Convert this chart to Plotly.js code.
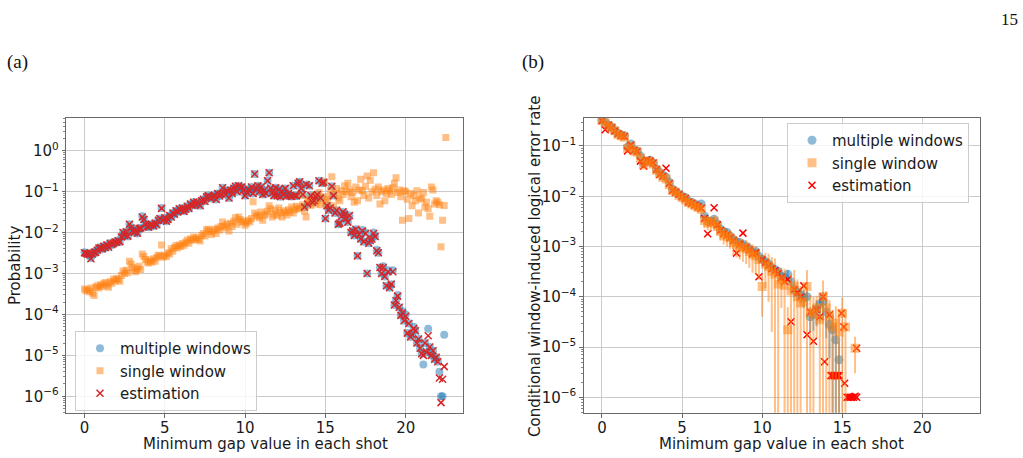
<!DOCTYPE html>
<html><head><meta charset="utf-8">
<script src="https://cdn.plot.ly/plotly-3.0.1.min.js"></script>
<style>html,body{margin:0;padding:0;background:#fff;}#chart{width:1023px;height:458px;}</style>
</head><body><div id="chart"></div>
<script>
// ---------- panel (a) data ----------
const xLeft = [
0,0.1,0.2,0.3,0.4,0.5,0.6,0.7,0.8,0.9,
1,1.1,1.2,1.3,1.4,1.5,1.6,1.7,1.8,1.9,
2,2.1,2.2,2.3,2.4,2.5,2.6,2.7,2.8,2.9,
3,3.1,3.2,3.3,3.4,3.5,3.6,3.7,3.8,3.9,
4,4.1,4.2,4.3,4.4,4.5,4.6,4.7,4.8,4.9,
5,5.1,5.2,5.3,5.4,5.5,5.6,5.7,5.8,5.9,
6,6.1,6.2,6.3,6.4,6.5,6.6,6.7,6.8,6.9,
7,7.1,7.2,7.3,7.4,7.5,7.6,7.7,7.8,7.9,
8,8.1,8.2,8.3,8.4,8.5,8.6,8.7,8.8,8.9,
9,9.1,9.2,9.3,9.4,9.5,9.6,9.7,9.8,9.9,
10,10.1,10.2,10.3,10.4,10.5,10.6,10.7,10.8,10.9,
11,11.1,11.2,11.3,11.4,11.5,11.6,11.7,11.8,11.9,
12,12.1,12.2,12.3,12.4,12.5,12.6,12.7,12.8,12.9,
13,13.1,13.2,13.3,13.4,13.5,13.6,13.7,13.8,13.9,
14,14.1,14.2,14.3,14.4,14.5,14.6,14.7,14.8,14.9,
15,15.1,15.2,15.3,15.4,15.5,15.6,15.7,15.8,15.9,
16,16.1,16.2,16.3,16.4,16.5,16.6,16.7,16.8,16.9,
17,17.1,17.2,17.3,17.4,17.5,17.6,17.7,17.8,17.9,
18,18.1,18.2,18.3,18.4,18.5,18.6,18.7,18.8,18.9,
19,19.1,19.2,19.3,19.4,19.5,19.6,19.7,19.8,19.9,
20,20.1,20.2,20.3,20.4,20.5,20.6,20.7,20.8,20.9,
21,21.1,21.2,21.3,21.4,21.5,21.6,21.7,21.8,21.9,
22,22.1,22.2,22.3,22.4,22.5];

const leftMultiple = [
3.3e-3,3.0e-3,3.1e-3,2.8e-3,2.4e-3,2.9e-3,3.4e-3,3.2e-3,3.8e-3,4.1e-3,
4.4e-3,3.9e-3,4.7e-3,4.2e-3,4.9e-3,4.5e-3,5.6e-3,5.0e-3,5.3e-3,6.0e-3,
5.7e-3,6.4e-3,5.9e-3,8.0e-3,9.8e-3,8.6e-3,1.05e-2,8.0e-3,1.6e-2,1.3e-2,
1.1e-2,1.0e-2,1.15e-2,9.5e-3,1.25e-2,1.3e-2,2.5e-2,2.1e-2,1.6e-2,1.4e-2,
1.35e-2,1.5e-2,1.6e-2,1.45e-2,1.7e-2,1.55e-2,2.0e-2,2.2e-2,4.0e-2,2.0e-2,
2.3e-2,1.9e-2,2.1e-2,2.6e-2,2.4e-2,3.0e-2,2.8e-2,3.4e-2,3.2e-2,3.8e-2,
3.5e-2,4.0e-2,3.3e-2,3.7e-2,4.4e-2,3.9e-2,5.0e-2,4.6e-2,5.5e-2,4.8e-2,
5.6e-2,5.0e-2,4.5e-2,6.0e-2,6.5e-2,5.8e-2,7.5e-2,8.0e-2,7.2e-2,6.8e-2,
7.6e-2,8.2e-2,6.4e-2,9.0e-2,7.8e-2,8.8e-2,1.25e-1,9.5e-2,8.5e-2,1.05e-1,
7.0e-2,1.1e-1,9.0e-2,1.2e-1,1.35e-1,1.0e-1,1.4e-1,1.25e-1,1.3e-1,1.1e-1,
8.0e-2,9.5e-2,1.15e-1,1.05e-1,1.3e-1,9.0e-2,2.7e-1,1.2e-1,1.4e-1,1.0e-1,
1.3e-1,8.5e-2,1.1e-1,9.0e-2,1.85e-1,2.9e-1,1.2e-1,9.5e-2,8.0e-2,1.25e-1,
8.0e-2,1.15e-1,7.5e-2,1.0e-1,8.5e-2,1.2e-1,7.8e-2,9.0e-2,8.0e-2,7.6e-2,
1.4e-1,8.0e-2,7.8e-2,1.6e-1,1.75e-1,1.2e-1,8.5e-2,4.2e-2,1.5e-1,5.0e-2,
1.4e-1,8.0e-2,5.5e-2,6.0e-2,7.5e-2,8.5e-2,1.85e-1,7.0e-2,1.6e-1,1.7e-1,
2.2e-2,4.5e-2,3.5e-2,4.0e-2,1.35e-1,8.0e-2,3.0e-2,3.5e-2,1.6e-2,1.7e-2,
2.5e-2,3.2e-2,2.8e-2,2.2e-2,1.8e-2,2.6e-2,1.0e-2,1.1e-2,8.5e-3,1.2e-2,
2.7e-3,9.0e-3,7.0e-3,1.15e-2,6.0e-3,1.0e-2,1.0e-3,5.5e-3,6.5e-3,7.5e-3,
1.0e-2,8.0e-3,3.8e-3,3.2e-3,1.4e-3,1.0e-3,1.5e-3,8.5e-4,5.0e-4,1.2e-3,
4.5e-4,5.5e-4,1.2e-3,1.7e-4,2.2e-4,3.0e-4,1.5e-4,9.5e-5,1.2e-4,7.0e-5,
1.0e-4,3.5e-5,6.0e-5,2.8e-5,3.2e-5,5.0e-5,4.0e-5,2.0e-5,2.5e-5,1.5e-5,
1.1e-5,6.0e-6,2.0e-5,1.2e-5,4.5e-5,1.6e-5,1.0e-5,1.3e-5,8.0e-6,9.0e-6,
7.0e-6,4.0e-6,1.0e-6,1.0e-6,3.2e-5];

const leftSingle = [
4.2e-4,3.8e-4,4.0e-4,3.6e-4,4.4e-4,3.3e-4,2.9e-4,4.6e-4,5.0e-4,4.4e-4,
5.3e-4,4.8e-4,5.6e-4,6.0e-4,5.2e-4,4.6e-4,6.3e-4,5.8e-4,7.2e-4,6.6e-4,
7.5e-4,7.0e-4,6.5e-4,9.0e-4,1.15e-3,1.0e-3,1.2e-3,1.05e-3,2.0e-3,1.7e-3,
1.4e-3,1.2e-3,1.1e-3,1.3e-3,1.5e-3,1.25e-3,3.0e-3,2.6e-3,2.2e-3,1.9e-3,
1.8e-3,2.1e-3,1.9e-3,2.3e-3,2.0e-3,2.5e-3,2.8e-3,2.7e-3,5.0e-3,2.5e-3,
2.8e-3,2.6e-3,3.2e-3,3.0e-3,4.0e-3,3.5e-3,4.3e-3,4.8e-3,4.2e-3,5.0e-3,
4.6e-3,5.4e-3,4.9e-3,5.8e-3,6.6e-3,5.5e-3,7.0e-3,6.5e-3,7.8e-3,6.9e-3,
7.5e-3,6.8e-3,6.2e-3,8.5e-3,9.5e-3,8.2e-3,1.15e-2,1.2e-2,1.05e-2,9.0e-3,
1.1e-2,1.2e-2,9.5e-3,1.3e-2,1.15e-2,1.4e-2,1.8e-2,1.45e-2,1.3e-2,1.6e-2,
1.1e-2,1.7e-2,1.4e-2,1.9e-2,2.3e-2,1.6e-2,2.4e-2,2.1e-2,1.8e-2,1.9e-2,
1.5e-2,1.7e-2,2.0e-2,1.85e-2,2.2e-2,5.7e-2,3.0e-2,2.5e-2,2.7e-2,2.3e-2,
3.2e-2,2.0e-2,2.6e-2,2.9e-2,3.3e-2,4.5e-2,3.8e-2,2.4e-2,2.8e-2,3.5e-2,
2.6e-2,4.0e-2,3.0e-2,2.4e-2,3.4e-2,3.1e-2,2.7e-2,3.6e-2,3.2e-2,4.2e-2,
3.0e-2,3.6e-2,4.4e-2,3.8e-2,4.0e-2,8.2e-2,4.8e-2,3.3e-2,2.4e-2,6.5e-2,
5.5e-2,4.6e-2,7.0e-2,8.0e-2,5.0e-2,6.0e-2,9.5e-2,4.8e-2,7.5e-2,1.7e-1,
5.2e-2,6.5e-2,7.5e-2,1.1e-1,2.3e-1,4.5e-2,9.0e-2,1.2e-1,7.0e-2,6.0e-2,
1.05e-1,8.5e-2,1.4e-1,1.0e-1,1.6e-1,1.1e-1,7.5e-2,9.5e-2,5.5e-2,1.3e-1,
6.0e-2,1.1e-1,2.0e-1,1.05e-1,8.0e-2,1.35e-1,2.4e-1,7.0e-2,1.9e-1,1.0e-1,
2.9e-1,1.15e-1,8.0e-2,1.3e-1,5.0e-2,1.0e-1,1.1e-1,6.0e-2,9.0e-2,1.2e-1,
1.05e-1,8.5e-2,1.25e-1,1.6e-1,2.2e-1,9.5e-2,1.1e-1,7.5e-2,2.0e-2,1.05e-1,
1.0e-1,6.5e-2,2.2e-2,9.0e-2,4.5e-2,8.0e-2,6.0e-2,1.05e-1,3.0e-2,7.0e-2,
6.5e-2,9.5e-2,4.2e-2,5.5e-2,3.8e-2,2.5e-2,1.3e-1,1.1e-1,5.0e-2,6.0e-2,
5.5e-2,4.8e-2,4.5e-3,2.0e-2,4.6e-2,2.1e0];

const leftEstimation = [
3.2e-3,3.1e-3,3.0e-3,2.9e-3,2.3e-3,3.0e-3,3.3e-3,3.3e-3,3.7e-3,4.2e-3,
4.3e-3,4.0e-3,4.6e-3,4.3e-3,5.0e-3,4.4e-3,5.5e-3,5.1e-3,5.4e-3,5.9e-3,
5.8e-3,6.3e-3,6.0e-3,7.8e-3,1.0e-2,8.5e-3,1.05e-2,8.2e-3,1.6e-2,1.3e-2,
1.1e-2,1.0e-2,1.15e-2,9.6e-3,1.25e-2,1.3e-2,2.4e-2,2.1e-2,1.6e-2,1.4e-2,
1.35e-2,1.5e-2,1.6e-2,1.45e-2,1.7e-2,1.55e-2,2.0e-2,2.2e-2,3.9e-2,2.0e-2,
2.3e-2,1.9e-2,2.1e-2,2.6e-2,2.4e-2,3.0e-2,2.8e-2,3.4e-2,3.2e-2,3.8e-2,
3.5e-2,4.0e-2,3.3e-2,3.7e-2,4.4e-2,3.9e-2,5.0e-2,4.6e-2,5.5e-2,4.8e-2,
5.6e-2,5.0e-2,4.5e-2,6.0e-2,6.5e-2,5.8e-2,7.5e-2,8.0e-2,7.2e-2,6.8e-2,
7.6e-2,8.2e-2,6.4e-2,9.0e-2,7.8e-2,8.8e-2,1.25e-1,9.5e-2,8.5e-2,1.05e-1,
7.0e-2,1.1e-1,9.0e-2,1.2e-1,1.35e-1,1.0e-1,1.4e-1,1.25e-1,1.3e-1,1.1e-1,
8.0e-2,9.5e-2,1.15e-1,1.05e-1,1.3e-1,9.0e-2,2.7e-1,1.2e-1,1.4e-1,1.0e-1,
1.3e-1,8.5e-2,1.1e-1,9.0e-2,1.85e-1,2.9e-1,1.2e-1,9.5e-2,8.0e-2,1.25e-1,
8.0e-2,1.15e-1,7.5e-2,1.0e-1,8.5e-2,1.2e-1,7.8e-2,9.0e-2,8.0e-2,7.6e-2,
1.4e-1,8.0e-2,7.8e-2,1.6e-1,1.75e-1,1.2e-1,8.5e-2,4.2e-2,1.5e-1,5.0e-2,
1.4e-1,8.0e-2,5.5e-2,6.0e-2,7.5e-2,8.5e-2,1.85e-1,7.0e-2,1.6e-1,1.7e-1,
2.2e-2,4.5e-2,3.5e-2,4.0e-2,1.35e-1,8.0e-2,3.0e-2,3.5e-2,1.6e-2,1.7e-2,
2.5e-2,3.2e-2,2.8e-2,2.2e-2,1.8e-2,2.6e-2,1.0e-2,1.1e-2,8.5e-3,1.2e-2,
2.7e-3,9.0e-3,7.0e-3,1.1e-2,6.0e-3,9.5e-3,1.0e-3,5.5e-3,6.5e-3,7.0e-3,
9.5e-3,8.0e-3,3.6e-3,3.2e-3,1.4e-3,1.0e-3,1.4e-3,8.5e-4,5.0e-4,1.1e-3,
4.5e-4,5.5e-4,1.1e-3,1.7e-4,2.2e-4,2.8e-4,1.5e-4,9.5e-5,1.1e-4,7.0e-5,
9.0e-5,3.5e-5,6.0e-5,2.8e-5,3.2e-5,4.5e-5,4.0e-5,2.0e-5,2.5e-5,1.5e-5,
1.1e-5,1.0e-5,2.0e-5,1.2e-5,3.0e-5,1.6e-5,1.0e-5,1.3e-5,8.0e-6,9.0e-6,
7.0e-6,2.8e-6,7.0e-7,2.6e-6,5.3e-6];

// ---------- panel (b) data ----------
const xRight = [
0,0.2,0.4,0.6,0.8,1,1.2,1.4,1.6,1.8,
2,2.2,2.4,2.6,2.8,3,3.2,3.4,3.6,3.8,
4,4.2,4.4,4.6,4.8,5,5.2,5.4,5.6,5.8,
6,6.2,6.4,6.6,6.8,7,7.2,7.4,7.6,7.8,
8,8.2,8.4,8.6,8.8,9,9.2,9.4,9.6,9.8,
10,10.2,10.4,10.6,10.8,11,11.2,11.4,11.6,11.8,
12,12.2,12.4,12.6,12.8,13,13.2,13.4,13.6,13.8,
14,14.2,14.4,14.6,14.8,15,15.2,15.4,15.6,15.8];

const rightMultiple = [
3.3e-1,3.0e-1,2.6e-1,2.4e-1,2.0e-1,1.8e-1,1.65e-1,1.6e-1,9.5e-2,1.1e-1,
8.3e-2,8.0e-2,6.3e-2,4.5e-2,5.0e-2,5.2e-2,4.6e-2,3.5e-2,3.0e-2,2.6e-2,
2.4e-2,1.9e-2,1.4e-2,1.25e-2,1.1e-2,1.0e-2,9.5e-3,7.9e-3,7.6e-3,7.0e-3,
6.3e-3,7.0e-3,4.0e-3,3.2e-3,3.2e-3,3.5e-3,2.8e-3,2.2e-3,2.0e-3,1.9e-3,
1.6e-3,1.4e-3,1.25e-3,1.2e-3,1.1e-3,1.0e-3,9.0e-4,7.6e-4,8.0e-4,6.3e-4,
5.6e-4,5.0e-4,4.5e-4,3.8e-4,3.5e-4,3.2e-4,2.6e-4,2.4e-4,2.8e-4,2.0e-4,
1.4e-4,1.25e-4,1.1e-4,9.5e-5,1.0e-4,4.0e-5,4.5e-5,5.6e-5,7.0e-5,8.0e-5,
5.0e-5,2.8e-5,2.2e-5,1.4e-5,5.6e-6,null,null,null,null,null];

const rightMultipleErr = [
6.6e-3,6.0e-3,5.2e-3,4.8e-3,4.0e-3,3.6e-3,3.3e-3,3.2e-3,1.9e-3,2.2e-3,
2.5e-3,2.4e-3,1.9e-3,1.35e-3,1.5e-3,1.6e-3,1.4e-3,1.05e-3,9.0e-4,7.8e-4,
1.2e-3,9.5e-4,7.0e-4,6.3e-4,5.5e-4,5.0e-4,4.8e-4,4.0e-4,3.8e-4,3.5e-4,
5.0e-4,5.6e-4,3.2e-4,2.6e-4,2.6e-4,2.8e-4,2.2e-4,1.8e-4,1.6e-4,1.5e-4,
1.9e-4,1.7e-4,1.5e-4,1.45e-4,1.3e-4,1.2e-4,1.1e-4,9.0e-5,9.6e-5,7.6e-5,
1.1e-4,1.0e-4,9.0e-5,7.6e-5,7.0e-5,6.4e-5,5.2e-5,5.0e-5,6.0e-5,4.4e-5,
4.2e-5,4.0e-5,3.6e-5,3.5e-5,4.0e-5,2.0e-5,2.4e-5,3.0e-5,3.8e-5,4.4e-5,
3.5e-5,2.2e-5,2.2e-5,1.6e-5,7.0e-6,null,null,null,null,null];

const rightSingle = [
3.2e-1,2.9e-1,2.5e-1,2.3e-1,2.0e-1,1.7e-1,1.6e-1,1.5e-1,9.0e-2,1.0e-1,
8.0e-2,7.5e-2,5.8e-2,4.2e-2,5.0e-2,4.8e-2,4.4e-2,3.3e-2,2.8e-2,2.4e-2,
2.2e-2,1.7e-2,1.3e-2,1.2e-2,1.05e-2,9.5e-3,8.5e-3,7.5e-3,7.0e-3,6.5e-3,
6.0e-3,5.5e-3,3.3e-3,3.0e-3,2.9e-3,3.2e-3,2.5e-3,2.0e-3,1.7e-3,1.6e-3,
1.5e-3,1.2e-3,1.1e-3,1.0e-3,9.5e-4,9.0e-4,8.0e-4,7.0e-4,6.5e-4,5.5e-4,
1.6e-4,4.5e-4,4.0e-4,3.2e-4,2.8e-4,1.8e-4,2.2e-4,1.7e-4,2.2e-5,1.3e-4,
1.6e-4,1.0e-4,7.5e-5,8.0e-5,1.6e-4,5.0e-5,4.5e-5,6.0e-5,3.5e-5,1.0e-4,
6.0e-5,4.0e-5,2.5e-5,3.0e-5,2.0e-5,4.7e-5,2.5e-5,null,null,9.5e-6];

const rightSingleErr = [
1.3e-2,1.2e-2,1.0e-2,9.0e-3,8.0e-3,7.0e-3,6.4e-3,6.0e-3,3.6e-3,4.0e-3,
4.8e-3,4.5e-3,3.5e-3,2.5e-3,3.0e-3,2.9e-3,2.6e-3,2.0e-3,1.7e-3,1.4e-3,
2.2e-3,1.9e-3,1.6e-3,1.5e-3,1.4e-3,1.3e-3,1.2e-3,1.1e-3,1.0e-3,1.0e-3,
1.2e-3,1.2e-3,1.0e-3,9.0e-4,9.0e-4,1.0e-3,8.0e-4,7.0e-4,6.0e-4,6.0e-4,
6.0e-4,5.5e-4,5.0e-4,4.5e-4,4.5e-4,4.5e-4,4.2e-4,4.0e-4,3.8e-4,3.3e-4,
1.2e-4,3.0e-4,3.2e-4,3.0e-4,3.0e-4,2.0e-4,1.6e-4,1.9e-4,4.0e-5,1.5e-4,
1.8e-4,1.2e-4,9.0e-5,6.0e-5,1.8e-4,6.0e-5,5.5e-5,4.5e-5,4.0e-5,1.1e-4,
7.0e-5,4.5e-5,3.0e-5,3.5e-5,2.5e-5,5.0e-5,3.0e-5,null,null,6.5e-6];

const xRightEst = [
0,0.2,0.4,0.6,0.8,1,1.2,1.4,1.6,1.8,
2,2.2,2.4,2.6,2.8,3,3.2,3.4,3.6,3.8,
4,4.2,4.4,4.6,4.8,5,5.2,5.4,5.6,5.8,
6,6.2,6.4,6.6,6.8,7,7.2,7.4,7.6,7.8,
8,8.2,8.4,8.6,8.8,9,9.2,9.4,9.6,9.8,
10,10.2,10.4,10.6,10.8,11,11.2,11.4,11.6,11.8,
12,12.2,12.4,12.6,12.8,13,13.2,13.4,13.6,13.8,
13.9,14.2,14.3,14.4,14.5,14.6,14.7,14.8,14.95,15.1,
15.15,15.3,15.4,15.5,15.6,15.7,15.8,15.9,15.9];

const rightEstimation = [
3.2e-1,2.1e-1,2.6e-1,2.3e-1,2.0e-1,1.75e-1,1.6e-1,1.55e-1,8.0e-2,1.05e-1,
8.2e-2,7.8e-2,5.0e-2,4.0e-2,5.3e-2,5.0e-2,4.6e-2,3.4e-2,2.7e-2,2.5e-2,
3.6e-2,1.8e-2,1.3e-2,1.2e-2,1.1e-2,9.8e-3,9.0e-3,7.7e-3,7.2e-3,6.7e-3,
6.2e-3,5.8e-3,3.6e-3,1.8e-3,3.0e-3,5.9e-3,2.7e-3,2.1e-3,1.8e-3,1.7e-3,
1.5e-3,1.3e-3,7.4e-4,1.1e-3,1.85e-3,9.5e-4,8.5e-4,7.2e-4,7.5e-4,2.5e-4,
5.5e-4,4.8e-4,4.2e-4,3.6e-4,3.3e-4,2.9e-4,2.4e-4,2.0e-4,2.2e-4,3.2e-5,
1.4e-4,1.2e-4,1.0e-4,1.65e-4,1.75e-5,5.0e-5,1.3e-5,5.5e-5,4.0e-5,1.0e-4,
5.1e-6,4.4e-5,2.7e-6,2.7e-6,2.7e-6,2.7e-6,2.7e-6,2.7e-6,4.7e-5,2.5e-5,
1.9e-6,1.0e-6,1.0e-6,1.0e-6,1.0e-6,1.0e-6,1.05e-6,1.0e-6,9.5e-6];

// ---------- ticks ----------
const xTickVals = [0, 5, 10, 15, 20];
const yTickValsLeft = [1e-6, 1e-5, 1e-4, 1e-3, 1e-2, 1e-1, 1];
const yTickTextLeft = ['10<sup>−6</sup>','10<sup>−5</sup>','10<sup>−4</sup>','10<sup>−3</sup>','10<sup>−2</sup>','10<sup>−1</sup>','10<sup>0</sup>'];
const yTickValsRight = [1e-6, 1e-5, 1e-4, 1e-3, 1e-2, 1e-1];
const yTickTextRight = ['10<sup>−6</sup>','10<sup>−5</sup>','10<sup>−4</sup>','10<sup>−3</sup>','10<sup>−2</sup>','10<sup>−1</sup>'];
const seriesNames = ['multiple windows', 'single window', 'estimation'];

// ---------- styling ----------
const FONT = 'DejaVu Sans, sans-serif';
const SERIF = 'Liberation Serif, DejaVu Serif, serif';
const AX = '#6a6a6a';
const GRID = '#c4c4c4';
const BLUE = 'rgba(31,119,180,0.5)';
const ORANGE = 'rgba(255,127,14,0.5)';

const minorVals = [];
for (let p = -7; p <= 1; p++) for (let k = 2; k <= 9; k++) minorVals.push(k * Math.pow(10, p));

function xAxis(domain, anchor) {
  return {domain: domain, anchor: anchor, range: [-1.12, 23.57], tickmode: 'array', tickvals: xTickVals,
    showgrid: true, gridcolor: GRID, gridwidth: 0.9, zeroline: false,
    showline: true, mirror: true, linecolor: AX, linewidth: 1.3,
    ticks: 'outside', ticklen: 3.5, tickwidth: 1, tickcolor: AX, ticklabelstandoff: -3,
    tickfont: {family: FONT, size: 15, color: '#1a1a1a'}};
}
function yAxis(range, vals, text, anchor) {
  return {domain: [0.0987, 0.7419], anchor: anchor, type: 'log', range: range,
    tickmode: 'array', tickvals: vals, ticktext: text,
    showgrid: true, gridcolor: GRID, gridwidth: 0.9, zeroline: false,
    showline: true, mirror: true, linecolor: AX, linewidth: 1.3,
    ticks: 'outside', ticklen: 3.5, tickwidth: 1, tickcolor: AX,
    minor: {tickmode: 'array', tickvals: minorVals, ticks: 'outside', ticklen: 2, tickwidth: 0.8, tickcolor: AX, showgrid: false},
    tickfont: {family: FONT, size: 15, color: '#1a1a1a'}};
}

const traces = [
  {x: xLeft, y: leftMultiple, type: 'scatter', mode: 'markers', name: seriesNames[0], xaxis: 'x', yaxis: 'y', legend: 'legend',
   marker: {symbol: 'circle', size: 8, color: BLUE, line: {width: 0}}},
  {x: xLeft, y: leftSingle, type: 'scatter', mode: 'markers', name: seriesNames[1], xaxis: 'x', yaxis: 'y', legend: 'legend',
   marker: {symbol: 'square', size: 7, color: ORANGE, line: {width: 0}}},
  {x: xLeft, y: leftEstimation, type: 'scatter', mode: 'markers', name: seriesNames[2], xaxis: 'x', yaxis: 'y', legend: 'legend',
   marker: {symbol: 'x-thin', size: 7, color: '#d62728', line: {width: 1.5, color: '#d62728'}}},
  {x: xRight, y: rightMultiple, type: 'scatter', mode: 'markers', name: seriesNames[0], xaxis: 'x2', yaxis: 'y2', legend: 'legend2', legendrank: 1,
   error_y: {type: 'data', array: rightMultipleErr, visible: true, color: BLUE, thickness: 2, width: 0},
   marker: {symbol: 'circle', size: 9, color: BLUE, line: {width: 0}}},
  {x: xRightEst, y: rightEstimation, type: 'scatter', mode: 'markers', name: seriesNames[2], xaxis: 'x2', yaxis: 'y2', legend: 'legend2', legendrank: 3,
   marker: {symbol: 'x-thin', size: 7, color: '#ff0000', line: {width: 1.5, color: '#ff0000'}}},
  {x: xRight, y: rightSingle, type: 'scatter', mode: 'markers', name: seriesNames[1], xaxis: 'x2', yaxis: 'y2', legend: 'legend2', legendrank: 2,
   error_y: {type: 'data', array: rightSingleErr, visible: true, color: ORANGE, thickness: 2, width: 0},
   marker: {symbol: 'square', size: 9, color: ORANGE, line: {width: 0}}}
];

function ann(text, px, py, opts) {
  return Object.assign({text: text, xref: 'paper', yref: 'paper', x: px / 1023, y: 1 - py / 458,
    xanchor: 'center', yanchor: 'middle', showarrow: false,
    font: {family: FONT, size: 15, color: '#1a1a1a'}}, opts || {});
}

const legendStyle = {font: {family: FONT, size: 15, color: '#1a1a1a'}, bgcolor: 'rgba(255,255,255,0.8)',
  bordercolor: '#cccccc', borderwidth: 1, xanchor: 'left', yanchor: 'top', tracegroupgap: 0,
  itemsizing: 'trace', indentation: 4, traceorder: 'normal'};

const layout = {
  width: 1023, height: 458, margin: {l: 0, r: 0, t: 0, b: 0},
  paper_bgcolor: '#ffffff', plot_bgcolor: '#ffffff', showlegend: true,
  xaxis: xAxis([0.0650, 0.4526], 'y'),
  yaxis: yAxis([-6.403, 0.794], yTickValsLeft, yTickTextLeft, 'x'),
  xaxis2: xAxis([0.5709, 0.9575], 'y2'),
  yaxis2: yAxis([-6.308, -0.447], yTickValsRight, yTickTextRight, 'x2'),
  legend: Object.assign({x: 75 / 1023, y: 1 - 331 / 458}, legendStyle),
  legend2: Object.assign({x: 787 / 1023, y: 1 - 123 / 458}, legendStyle),
  annotations: [
    ann('(a)', 17, 62, {font: {family: SERIF, size: 19, color: '#111'}}),
    ann('(b)', 533, 62, {font: {family: SERIF, size: 19, color: '#111'}}),
    ann('15', 1009, 20, {font: {family: SERIF, size: 17, color: '#111'}}),
    ann('Probability', 15, 266, {textangle: -90}),
    ann('Minimum gap value in each shot', 265, 444),
    ann('Conditional window-induced logical error rate', 535, 267, {textangle: -90}),
    ann('Minimum gap value in each shot', 781, 444)
  ]
};

Plotly.newPlot('chart', traces, layout, {displayModeBar: false, staticPlot: true});
</script>
</body></html>
